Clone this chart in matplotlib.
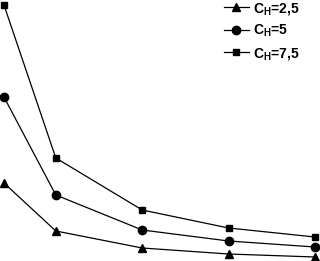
import matplotlib
matplotlib.use("Agg")
import matplotlib.pyplot as plt

# -----------------------------
# Data (arbitrary units)
# -----------------------------
x = [0.4, 1, 2, 3, 4]
y_ch_2_5 = [78, 30, 13, 7, 4]
y_ch_5 = [164, 66, 31, 20, 14]
y_ch_7_5 = [256, 103, 51, 33, 24]

labels = [r"$\mathregular{C_H}$=2,5", r"$\mathregular{C_H}$=5", r"$\mathregular{C_H}$=7,5"]

plt.rcParams["font.family"] = ["Liberation Sans", "DejaVu Sans"]
plt.rcParams["mathtext.fontset"] = "custom"
plt.rcParams["mathtext.rm"] = "Liberation Sans:bold"

fig = plt.figure(figsize=(3.2, 2.61), dpi=100)
ax = fig.add_axes([0, 0, 1, 1])

ax.plot(x, y_ch_2_5, color="black", lw=0.9, marker="^", ms=6, label=labels[0])
ax.plot(x, y_ch_5, color="black", lw=0.9, marker="o", ms=6, label=labels[1])
ax.plot(x, y_ch_7_5, color="black", lw=0.9, marker="s", ms=5, label=labels[2])

ax.set_xlim(0.354, 4.058)
ax.set_ylim(0, 261)
ax.axis("off")

ax.legend(
    loc="upper right",
    bbox_to_anchor=(0.975, 1.045),
    frameon=False,
    handlelength=1.8,
    handletextpad=0.3,
    labelspacing=0.45,
    prop={"size": 10, "weight": "bold"},
)

fig.savefig("out.png", dpi=100)
